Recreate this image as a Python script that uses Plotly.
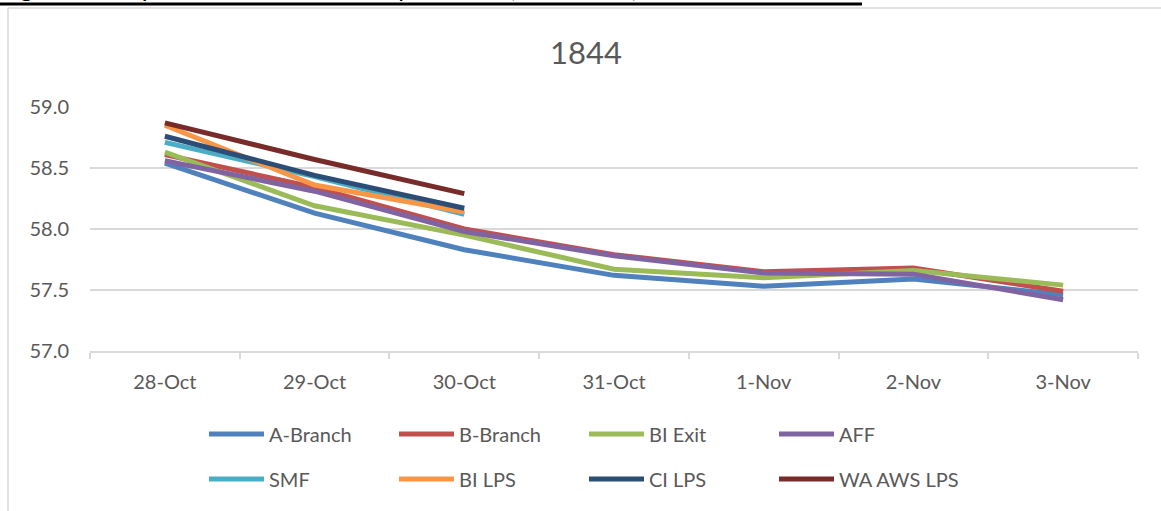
import plotly.graph_objects as go

W, H = 1161, 511
L, R, T, B = 90, 1138, 107, 351  # plot area pixels

dates = ["28-Oct", "29-Oct", "30-Oct", "31-Oct", "1-Nov", "2-Nov", "3-Nov"]

a_branch = [58.54, 58.13, 57.83, 57.62, 57.53, 57.59, 57.46]
b_branch = [58.61, 58.34, 58.00, 57.79, 57.65, 57.68, 57.49]
bi_exit = [58.63, 58.19, 57.95, 57.67, 57.60, 57.66, 57.54]
aff = [58.56, 58.31, 57.98, 57.78, 57.64, 57.63, 57.42]
smf = [58.71, 58.43, 58.12, None, None, None, None]
bi_lps = [58.85, 58.36, 58.14, None, None, None, None]
ci_lps = [58.76, 58.44, 58.17, None, None, None, None]
wa_aws_lps = [58.87, 58.57, 58.29, None, None, None, None]

names = ["A-Branch", "B-Branch", "BI Exit", "AFF", "SMF", "BI LPS", "CI LPS", "WA AWS LPS"]
series = [a_branch, b_branch, bi_exit, aff, smf, bi_lps, ci_lps, wa_aws_lps]
colors = ["#4F81BD", "#C0504D", "#9BBB59", "#8064A2", "#4BACC6", "#F79646", "#2C4D75", "#772C2A"]

title_text = "1844"
caption_text = "Figure 7: Graph of normal water temperatures (Fahrenheit):"

FONT = "Lato, 'Open Sans', sans-serif"
GREY = "#595959"
GRID = "#D9D9D9"


def px(x):
    return (x - L) / (R - L)


def py(y):
    return (B - y) / (B - T)


def cx(x):
    return x / W


def cy(y):
    return 1 - y / H


fig = go.Figure()
for i, (n, s, c) in enumerate(zip(names, series, colors)):
    fig.add_trace(go.Scatter(
        x=dates, y=s, name=n, mode="lines",
        line=dict(color=c, width=5),
        connectgaps=False,
        legend="legend" if i < 4 else "legend2",
    ))

legend_common = dict(
    orientation="h", xanchor="left", yanchor="middle",
    xref="container", yref="container",
    font=dict(family=FONT, size=20, color=GREY),
    bgcolor="rgba(0,0,0,0)", borderwidth=0,
    entrywidth=120, entrywidthmode="pixels",
    itemwidth=55, traceorder="normal",
)

fig.update_layout(
    width=W, height=H,
    margin=dict(l=L, r=W - R, t=T, b=H - B, autoexpand=False),
    paper_bgcolor="white", plot_bgcolor="white",
    showlegend=True,
    legend=dict(x=cx(204), y=cy(434), **legend_common),
    legend2=dict(x=cx(204), y=cy(479), **legend_common),
    font=dict(family=FONT, color=GREY),
    xaxis=dict(
        type="category", range=[-0.5, 6.5], showgrid=False,
        showline=True, linecolor=GRID, linewidth=1.5,
        ticks="outside", tickson="boundaries", ticklen=6, tickcolor=GRID, tickwidth=1.5,
        tickfont=dict(family=FONT, size=20, color=GREY),
        ticklabelstandoff=12,
        fixedrange=True,
    ),
    yaxis=dict(
        range=[57, 59], dtick=0.5, tick0=57, tickformat=".1f",
        showgrid=True, gridcolor=GRID, gridwidth=1.5,
        zeroline=False, showline=False, ticks="",
        tickfont=dict(family=FONT, size=20, color=GREY),
        ticklabelstandoff=20,
        fixedrange=True,
    ),
    annotations=[
        dict(text=title_text, xref="paper", yref="paper", x=px(586), y=py(52),
             xanchor="center", yanchor="middle", showarrow=False,
             font=dict(family=FONT, size=31, color=GREY)),
        dict(text=caption_text, xref="paper", yref="paper", x=px(-2), y=py(4),
             xanchor="left", yanchor="bottom", showarrow=False,
             font=dict(family=FONT, size=25, color="black")),
    ],
    shapes=[
        dict(type="line", xref="paper", yref="paper", x0=px(8), x1=px(8), y0=py(8), y1=py(520),
             line=dict(color=GRID, width=1.5)),
        dict(type="line", xref="paper", yref="paper", x0=px(8), x1=px(1170), y0=py(8), y1=py(8),
             line=dict(color=GRID, width=1.5)),
        dict(type="line", xref="paper", yref="paper", x0=px(0), x1=px(862), y0=py(4), y1=py(4),
             line=dict(color="black", width=3)),
    ],
)

fig.write_html(
    "out.html",
    config={"displayModeBar": False},
    post_script="document.body.style.margin='0px';document.body.style.overflow='hidden';",
)
